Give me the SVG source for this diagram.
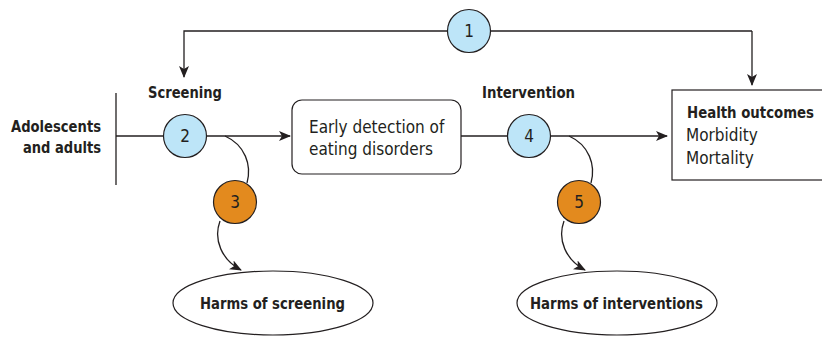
<svg xmlns="http://www.w3.org/2000/svg" width="822" height="337" viewBox="0 0 822 337">
<style>
text{font-family:"DejaVu Sans Condensed","Liberation Sans",sans-serif;fill:#231f20;font-size:17px}
.b{font-weight:bold;font-size:16px}
.ln{fill:none;stroke:#231f20;stroke-width:1.3}
.blue{fill:#bde5f8;stroke:#231f20;stroke-width:1.2}
.orange{fill:#e38a1e;stroke:#231f20;stroke-width:1.2}
.box{fill:#fff;stroke:#231f20;stroke-width:1.2}
.num{font-size:17px;text-anchor:middle}
</style>
<defs>
<marker id="ah" markerWidth="12" markerHeight="10" refX="11" refY="5" orient="auto" markerUnits="userSpaceOnUse">
<path d="M0,0 L12,5 L0,10 L3,5 Z" fill="#231f20"/>
</marker>
</defs>
<g id="connectors">
<path class="ln" d="M752,31 H184 V77" marker-end="url(#ah)"/>
<path class="ln" d="M752,31 V85" marker-end="url(#ah)"/>
<path class="ln" d="M116,93 V185"/>
<path class="ln" d="M116,136 H290" marker-end="url(#ah)"/>
<path class="ln" d="M461,136 H667" marker-end="url(#ah)"/>
<path class="ln" d="M225,136 C245,145 252,165 247,183"/>
<path class="ln" d="M220,221 C213,240 222,260 241,270" marker-end="url(#ah)"/>
<path class="ln" d="M569,136 C589,145 596,165 591,183"/>
<path class="ln" d="M564,221 C557,240 566,260 585,270" marker-end="url(#ah)"/>
</g>
<g id="population">
<text class="b" x="11" y="132" textLength="90" lengthAdjust="spacingAndGlyphs">Adolescents</text>
<text class="b" x="23" y="153" textLength="78" lengthAdjust="spacingAndGlyphs">and adults</text>
</g>
<g id="screening-label"><text class="b" x="148" y="98" textLength="74" lengthAdjust="spacingAndGlyphs">Screening</text></g>
<g id="intervention-label"><text class="b" x="482" y="98" textLength="93" lengthAdjust="spacingAndGlyphs">Intervention</text></g>
<g id="early-detection">
<rect class="box" x="292" y="100" width="169" height="74" rx="10"/>
<text x="309" y="133">Early detection of</text>
<text x="309" y="155">eating disorders</text>
</g>
<g id="health-outcomes">
<rect class="box" x="672" y="90" width="160" height="90"/>
<text class="b" x="687" y="118" style="font-size:15px" textLength="127" lengthAdjust="spacingAndGlyphs">Health outcomes</text>
<text x="686" y="141">Morbidity</text>
<text x="686" y="164">Mortality</text>
</g>
<g id="harms-screening">
<ellipse class="box" cx="273" cy="303" rx="100" ry="32"/>
<text class="b" x="200" y="309" textLength="145" lengthAdjust="spacingAndGlyphs">Harms of screening</text>
</g>
<g id="harms-interventions">
<ellipse class="box" cx="617" cy="303" rx="100" ry="32"/>
<text class="b" x="530" y="309" textLength="173" lengthAdjust="spacingAndGlyphs">Harms of interventions</text>
</g>
<g id="kq1"><circle class="blue" cx="469" cy="31" r="21.5"/><text class="num" x="469" y="37">1</text></g>
<g id="kq2"><circle class="blue" cx="185" cy="136" r="21.5"/><text class="num" x="185" y="142">2</text></g>
<g id="kq3"><circle class="orange" cx="235" cy="202" r="21.5"/><text class="num" x="235" y="208">3</text></g>
<g id="kq4"><circle class="blue" cx="529" cy="136" r="21.5"/><text class="num" x="529" y="142">4</text></g>
<g id="kq5"><circle class="orange" cx="579" cy="202" r="21.5"/><text class="num" x="579" y="208">5</text></g>
</svg>
